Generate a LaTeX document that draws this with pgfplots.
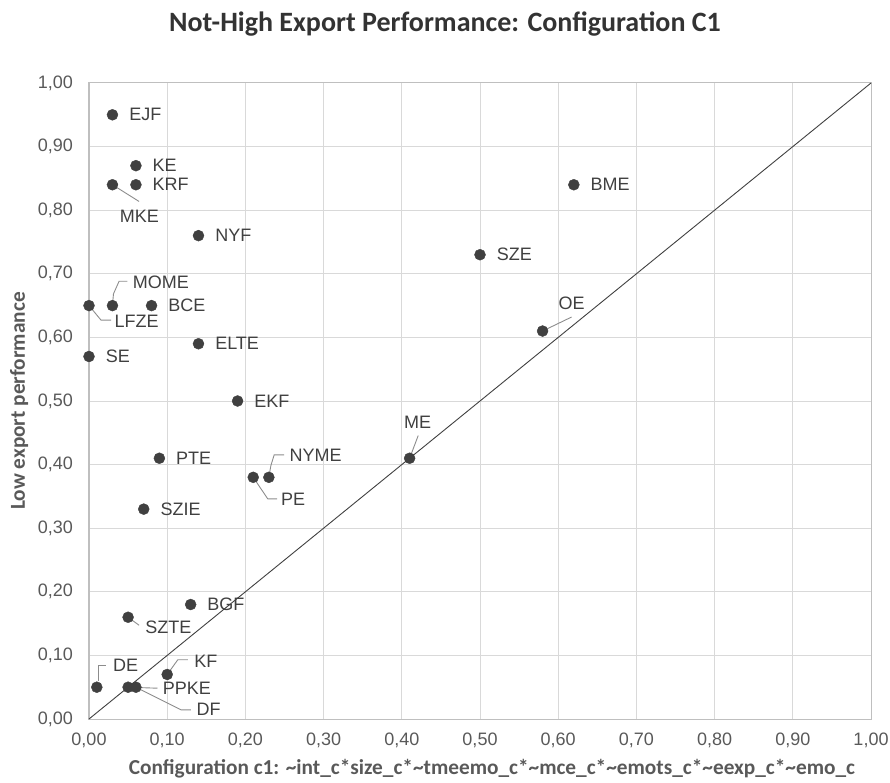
\documentclass[border=0pt]{standalone}
\usepackage{pgfplots}
\pgfplotsset{compat=1.18}
\usepackage{fontspec}
\setmainfont{Liberation Sans}
\newfontfamily\calibri{Carlito}
\definecolor{dotc}{HTML}{404040}
\definecolor{txt}{HTML}{404040}
\definecolor{tickc}{HTML}{595959}
\definecolor{gridc}{HTML}{D9D9D9}
\definecolor{axc}{HTML}{BFBFBF}
\definecolor{lead}{HTML}{8C8C8C}
\definecolor{titlec}{HTML}{333333}
\definecolor{diagc}{HTML}{404040}
\begin{document}
\begin{tikzpicture}[
  lab/.style={anchor=west, inner sep=0pt, font=\fontsize{18}{18}\selectfont, text=txt},
  labc/.style={anchor=center, inner sep=0pt, font=\fontsize{18}{18}\selectfont, text=txt},
  ld/.style={draw=lead, line width=0.9pt}
]
\path[use as bounding box] (-89pt,-63pt) rectangle (801pt,719pt);
\begin{axis}[
  at={(0,0)}, anchor=south west,
  scale only axis, width=782pt, height=636pt,
  xmin=0, xmax=1, ymin=0, ymax=1,
  clip=false,
  xtick={0,0.1,0.2,0.3,0.4,0.5,0.6,0.7,0.8,0.9,1},
  ytick={0,0.1,0.2,0.3,0.4,0.5,0.6,0.7,0.8,0.9,1},
  grid=major,
  major grid style={draw=gridc, line width=1pt},
  axis line style={draw=axc, line width=1pt},
  major tick length=0pt,
  tick label style={font=\fontsize{18}{18}\selectfont, text=tickc, inner sep=0pt},
  xticklabel style={anchor=north, yshift=-14pt},
  yticklabel style={anchor=east, xshift=-16pt},
  /pgf/number format/fixed,
  /pgf/number format/fixed zerofill,
  /pgf/number format/precision=2,
  /pgf/number format/use comma,
  /pgf/number format/assume math mode=true,
]
\addplot[draw=diagc, line width=0.9pt, no marks] coordinates {(0,0) (1,1)};
\addplot[only marks, mark=*, mark size=5.5pt, mark options={fill=dotc, draw=dotc}] table {
x y
0.03 0.95
0.06 0.87
0.06 0.84
0.03 0.84
0.14 0.76
0.62 0.84
0.50 0.73
0.58 0.61
0.03 0.65
0.00 0.65
0.08 0.65
0.14 0.59
0.00 0.57
0.19 0.50
0.41 0.41
0.09 0.41
0.23 0.38
0.21 0.38
0.07 0.33
0.13 0.18
0.05 0.16
0.10 0.07
0.01 0.05
0.05 0.05
0.06 0.05
};
% right-side labels
\node[lab, xshift=16.6pt] at (axis cs:0.03,0.95) {EJF};
\node[lab, xshift=16.6pt] at (axis cs:0.06,0.87) {KE};
\node[lab, xshift=16.6pt] at (axis cs:0.06,0.84) {KRF};
\node[lab, xshift=16.6pt] at (axis cs:0.14,0.76) {NYF};
\node[lab, xshift=16.6pt] at (axis cs:0.62,0.84) {BME};
\node[lab, xshift=16.6pt] at (axis cs:0.50,0.73) {SZE};
\node[lab, xshift=16.6pt] at (axis cs:0.08,0.65) {BCE};
\node[lab, xshift=16.6pt] at (axis cs:0.14,0.59) {ELTE};
\node[lab, xshift=16.6pt] at (axis cs:0.00,0.57) {SE};
\node[lab, xshift=16.6pt] at (axis cs:0.19,0.50) {EKF};
\node[lab, xshift=16.6pt] at (axis cs:0.09,0.41) {PTE};
\node[lab, xshift=16.6pt] at (axis cs:0.07,0.33) {SZIE};
\node[lab, xshift=16.6pt] at (axis cs:0.13,0.18) {BGF};
% labels with leader lines
\draw[ld] (axis cs:0.03,0.84) -- ([shift={(26.6pt,-16.7pt)}]axis cs:0.03,0.84);
\node[labc, xshift=27pt, yshift=-32pt] at (axis cs:0.03,0.84) {MKE};
\draw[ld] (axis cs:0,0.65) -- ([shift={(12pt,-14.5pt)}]axis cs:0,0.65) -- ([shift={(22pt,-14.5pt)}]axis cs:0,0.65);
\node[lab, xshift=25.5pt, yshift=-15.7pt] at (axis cs:0,0.65) {LFZE};
\draw[ld] (axis cs:0.03,0.65) -- ([shift={(1pt,11.7pt)}]axis cs:0.03,0.65) -- ([shift={(6.6pt,24.3pt)}]axis cs:0.03,0.65) -- ([shift={(15pt,24.3pt)}]axis cs:0.03,0.65);
\node[lab, xshift=20.3pt, yshift=23.3pt] at (axis cs:0.03,0.65) {MOME};
\draw[ld] (axis cs:0.23,0.38) -- ([shift={(2pt,11.7pt)}]axis cs:0.23,0.38) -- ([shift={(5.3pt,22.4pt)}]axis cs:0.23,0.38) -- ([shift={(15.3pt,22.4pt)}]axis cs:0.23,0.38);
\node[lab, xshift=20.6pt, yshift=22.4pt] at (axis cs:0.23,0.38) {NYME};
\draw[ld] (axis cs:0.21,0.38) -- ([shift={(14.6pt,-21.6pt)}]axis cs:0.21,0.38) -- ([shift={(24pt,-21.6pt)}]axis cs:0.21,0.38);
\node[lab, xshift=27.6pt, yshift=-21.6pt] at (axis cs:0.21,0.38) {PE};
\draw[ld] (axis cs:0.41,0.41) -- ([shift={(8.6pt,22.7pt)}]axis cs:0.41,0.41);
\node[labc, xshift=8pt, yshift=36pt] at (axis cs:0.41,0.41) {ME};
\draw[ld] (axis cs:0.58,0.61) -- ([shift={(29pt,14pt)}]axis cs:0.58,0.61);
\node[labc, xshift=29pt, yshift=27.3pt] at (axis cs:0.58,0.61) {OE};
\draw[ld] (axis cs:0.05,0.16) -- ([shift={(11pt,-8pt)}]axis cs:0.05,0.16);
\node[lab, xshift=17pt, yshift=-10pt] at (axis cs:0.05,0.16) {SZTE};
\draw[ld] (axis cs:0.10,0.07) -- ([shift={(10.6pt,14.7pt)}]axis cs:0.10,0.07) -- ([shift={(20.6pt,14.7pt)}]axis cs:0.10,0.07);
\node[lab, xshift=27pt, yshift=13.3pt] at (axis cs:0.10,0.07) {KF};
\draw[ld] ([shift={(1.3pt,6.7pt)}]axis cs:0.01,0.05) -- ([shift={(1.3pt,21.7pt)}]axis cs:0.01,0.05) -- ([shift={(9pt,21.7pt)}]axis cs:0.01,0.05);
\node[lab, xshift=16pt, yshift=21.7pt] at (axis cs:0.01,0.05) {DE};
\draw[ld] (axis cs:0.05,0.05) -- ([shift={(29.4pt,-1pt)}]axis cs:0.05,0.05);
\node[lab, xshift=34.5pt, yshift=-1.3pt] at (axis cs:0.05,0.05) {PPKE};
\draw[ld] (axis cs:0.06,0.05) -- ([shift={(45pt,-22.6pt)}]axis cs:0.06,0.05) -- ([shift={(55pt,-22.6pt)}]axis cs:0.06,0.05);
\node[lab, xshift=60.5pt, yshift=-22.6pt] at (axis cs:0.06,0.05) {DF};
\end{axis}
\node[anchor=base, inner sep=0pt, text=titlec, font=\calibri\bfseries\fontsize{28}{30}\selectfont] at (356pt,687pt) {Not-High Export Performance: Configuration C1};
\node[anchor=base, inner sep=0pt, text=tickc, font=\calibri\bfseries\fontsize{21.3}{23}\selectfont] at (403pt,-55pt) {Configuration c1: \textasciitilde int\_c*size\_c*\textasciitilde tmeemo\_c*\textasciitilde mce\_c*\textasciitilde emots\_c*\textasciitilde eexp\_c*\textasciitilde emo\_c};
\node[anchor=base, rotate=90, inner sep=0pt, text=tickc, font=\calibri\bfseries\fontsize{21.3}{23}\selectfont] at (-64pt,318pt) {Low export performance};
\end{tikzpicture}
\end{document}
